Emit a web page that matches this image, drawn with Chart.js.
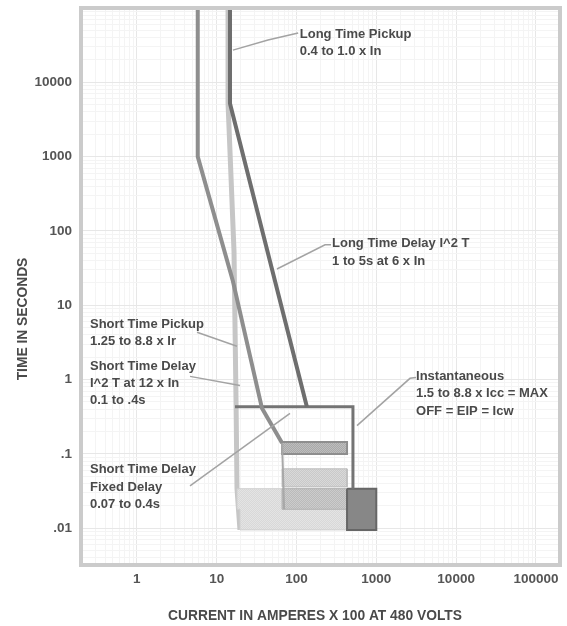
<!DOCTYPE html>
<html>
<head>
<meta charset="utf-8">
<script src="https://cdn.jsdelivr.net/npm/chart.js@4.4.1/dist/chart.umd.min.js"></script>
<style>
  html, body { margin: 0; padding: 0; background: #ffffff; }
  canvas { display: block; }
</style>
</head>
<body>
<canvas id="tcc" width="567" height="626"></canvas>
<script>
// Axis ticks
const currentTicks = [1, 10, 100, 1000, 10000, 100000];
const currentTickLabels = ['1', '10', '100', '1000', '10000', '100000'];
const timeTicks = [0.01, 0.1, 1, 10, 100, 1000, 10000];
const timeTickLabels = ['.01', '.1', '1', '10', '100', '1000', '10000'];

// Trip curves, points as [current x100 A, time s]
const longTimeMinCurve = [[5.8, 100000], [5.8, 1000], [16, 21], [37, 0.41], [66, 0.14]];
const longTimeMaxCurve = [[14.7, 100000], [14.7, 5200], [135, 0.43]];
const longTimeBandEdge = [[13.9, 100000], [13.9, 5200], [16.5, 54], [17.5, 0.51], [18, 0.034], [19.6, 0.0095]];
const shortTimeEnvelope = [[17, 0.43], [510, 0.43], [510, 0.034]];
const fixedDelayEdge = [[66, 0.14], [70, 0.018]];

// Short time fixed delay bands and instantaneous band (closed outlines)
const fixedBand1 = [[66, 0.145], [430, 0.145], [430, 0.10], [66, 0.10], [66, 0.145]];
const fixedBand2 = [[66, 0.063], [430, 0.063], [430, 0.036], [66, 0.036], [66, 0.063]];
const fixedBand3 = [[66, 0.034], [430, 0.034], [430, 0.018], [66, 0.018], [66, 0.034]];
const fixedBandOuter = [[18, 0.034], [430, 0.034], [430, 0.0095], [19.6, 0.0095], [19.6, 0.018], [18, 0.018], [18, 0.034]];
const instantaneousBand = [[430, 0.034], [1000, 0.034], [1000, 0.0095], [430, 0.0095], [430, 0.034]];

// Callout leader lines
const leaderLTPickup = [[16, 27100], [44, 37000], [105, 46000]];
const leaderLTDelay = [[57, 30.8], [228, 65], [271, 65]];
const leaderInst = [[573, 0.24], [2644, 1.04], [3145, 1.07]];
const leaderSTPickup = [[5.68, 4.34], [18, 2.81]];
const leaderSTDelay = [[4.64, 1.105], [19.6, 0.835]];
const leaderFixed = [[4.64, 0.0372], [83, 0.35]];

// Callout texts
const calloutLTPickup = ['Long Time Pickup', '0.4 to 1.0 x In'];
const calloutLTDelay = ['Long Time Delay I^2 T', '1 to 5s at 6 x In'];
const calloutInst = ['Instantaneous', '1.5 to 8.8 x Icc = MAX', 'OFF = EIP = Icw'];
const calloutSTPickup = ['Short Time Pickup', '1.25 to 8.8 x Ir'];
const calloutSTDelay = ['Short Time Delay', 'I^2 T at 12 x In', '0.1 to .4s'];
const calloutFixed = ['Short Time Delay', 'Fixed Delay', '0.07 to 0.4s'];

const toXY = pts => pts.map(p => ({ x: p[0], y: p[1] }));

function checker(a, b) {
  const c = document.createElement('canvas');
  c.width = 2; c.height = 2;
  const g = c.getContext('2d');
  g.fillStyle = a; g.fillRect(0, 0, 2, 2);
  g.fillStyle = b; g.fillRect(0, 0, 1, 1); g.fillRect(1, 1, 1, 1);
  return g.createPattern(c, 'repeat');
}

function logTicks(min, max) {
  const out = [];
  for (let e = -4; e <= 6; e++) {
    for (let m = 1; m <= 9; m++) {
      const v = parseFloat((m * Math.pow(10, e)).toPrecision(6));
      if (v >= min * 0.999 && v <= max * 1.001) out.push({ value: v, major: m === 1 });
    }
  }
  return out;
}

function labelFor(value, values, labels) {
  for (let i = 0; i < values.length; i++) {
    if (Math.abs(Math.log10(value) - Math.log10(values[i])) < 1e-6) return labels[i];
  }
  return '';
}

function line(data, color, width, extra) {
  return Object.assign({
    data: toXY(data), showLine: true, borderColor: color, borderWidth: width,
    pointRadius: 0, fill: false, tension: 0, borderJoinStyle: 'miter', borderCapStyle: 'butt'
  }, extra || {});
}

function band(data, fillStyle, edge, width) {
  return line(data, edge, width, { fill: 'shape', backgroundColor: fillStyle });
}

const LABEL_FONT = 'bold 13px "Liberation Sans", Arial, sans-serif';
const TITLE_FONT = 'bold 13.8px "Liberation Sans", Arial, sans-serif';
const TEXT_COLOR = '#4a4a4a';
const TICK_FONT = { family: '"Liberation Sans", Arial, sans-serif', size: 13.5, weight: 'bold' };

const callouts = [
  { text: calloutLTPickup, x: 110, t: 44500 },
  { text: calloutLTDelay, x: 279, t: 67 },
  { text: calloutInst, x: 3145, t: 1.1 },
  { text: calloutSTPickup, x: 0.259, t: 5.57 },
  { text: calloutSTDelay, x: 0.259, t: 1.51 },
  { text: calloutFixed, x: 0.259, t: 0.0612 }
];

const decorations = {
  id: 'decorations',
  beforeDraw(chart) {
    const ctx = chart.ctx;
    ctx.save();
    ctx.fillStyle = '#ffffff';
    ctx.fillRect(0, 0, chart.width, chart.height);
    ctx.restore();
  },
  afterDatasetsDraw(chart) {
    const ctx = chart.ctx;
    const xs = chart.scales.x, ys = chart.scales.y;
    ctx.save();
    ctx.font = LABEL_FONT;
    ctx.fillStyle = TEXT_COLOR;
    ctx.textAlign = 'left';
    ctx.textBaseline = 'middle';
    callouts.forEach(c => {
      const px = xs.getPixelForValue(c.x);
      const py = ys.getPixelForValue(c.t);
      c.text.forEach((s, i) => ctx.fillText(s, px, py + i * 17.3));
    });
    ctx.restore();
  },
  afterDraw(chart) {
    const ctx = chart.ctx;
    const a = chart.chartArea;
    ctx.save();
    ctx.strokeStyle = '#cbcbcb';
    ctx.lineWidth = 4;
    ctx.strokeRect(a.left, a.top, a.right - a.left, a.bottom - a.top);
    ctx.font = TITLE_FONT;
    ctx.fillStyle = TEXT_COLOR;
    ctx.textAlign = 'center';
    ctx.textBaseline = 'middle';
    ctx.fillText('CURRENT IN AMPERES X 100 AT 480 VOLTS', 315, 616);
    ctx.translate(23.5, 319);
    ctx.rotate(-Math.PI / 2);
    ctx.fillText('TIME IN SECONDS', 0, 0);
    ctx.restore();
  }
};

const datasets = [
  line(leaderLTPickup, '#a3a3a3', 1.5),
  line(leaderLTDelay, '#a3a3a3', 1.5),
  line(leaderInst, '#a3a3a3', 1.5),
  line(leaderSTPickup, '#a3a3a3', 1.5),
  line(leaderSTDelay, '#a3a3a3', 1.5),
  line(leaderFixed, '#a3a3a3', 1.5),
  line(longTimeMaxCurve, '#6e6e6e', 4),
  line(longTimeMinCurve, '#8e8e8e', 4),
  line(shortTimeEnvelope, '#747474', 3),
  band(instantaneousBand, '#878787', '#666666', 2),
  line(fixedDelayEdge, '#a8a8a8', 2),
  band(fixedBand1, checker('#a9a9a9', '#bdbdbd'), '#8e8e8e', 2),
  band(fixedBand2, checker('#c9c9c9', '#d9d9d9'), '#bcbcbc', 1),
  band(fixedBand3, checker('#bababa', '#cccccc'), '#b0b0b0', 1),
  band(fixedBandOuter, checker('#d8d8d8', '#e4e4e4'), '#cfcfcf', 1),
  line(longTimeBandEdge, '#c6c6c6', 5)
];

const gridColor = c => (c.tick && c.tick.major) ? '#e7e7e7' : '#f4f4f4';

new Chart(document.getElementById('tcc'), {
  type: 'scatter',
  data: { datasets },
  options: {
    responsive: false,
    devicePixelRatio: 1,
    animation: false,
    events: [],
    layout: { padding: { left: 0, top: 8, right: 7, bottom: 0 } },
    plugins: { legend: { display: false }, tooltip: { enabled: false }, title: { display: false } },
    scales: {
      x: {
        type: 'logarithmic',
        min: 0.2,
        max: 200000,
        afterBuildTicks: s => { s.ticks = logTicks(0.2, 200000); },
        afterFit: s => { s.height = 61; s.paddingLeft = 0; s.paddingRight = 0; },
        border: { display: false },
        grid: { drawTicks: false, color: gridColor, lineWidth: 1 },
        ticks: {
          autoSkip: false,
          maxRotation: 0,
          padding: 6,
          color: '#555555',
          font: TICK_FONT,
          callback: v => labelFor(v, currentTicks, currentTickLabels)
        }
      },
      y: {
        type: 'logarithmic',
        min: 0.0032,
        max: 100000,
        afterBuildTicks: s => { s.ticks = logTicks(0.0032, 100000); },
        afterFit: s => { s.width = 81; s.paddingTop = 0; s.paddingBottom = 0; },
        border: { display: false },
        grid: { drawTicks: false, color: gridColor, lineWidth: 1 },
        ticks: {
          autoSkip: false,
          padding: 9,
          color: '#555555',
          font: TICK_FONT,
          callback: v => labelFor(v, timeTicks, timeTickLabels)
        }
      }
    }
  },
  plugins: [decorations]
});
</script>
</body>
</html>
